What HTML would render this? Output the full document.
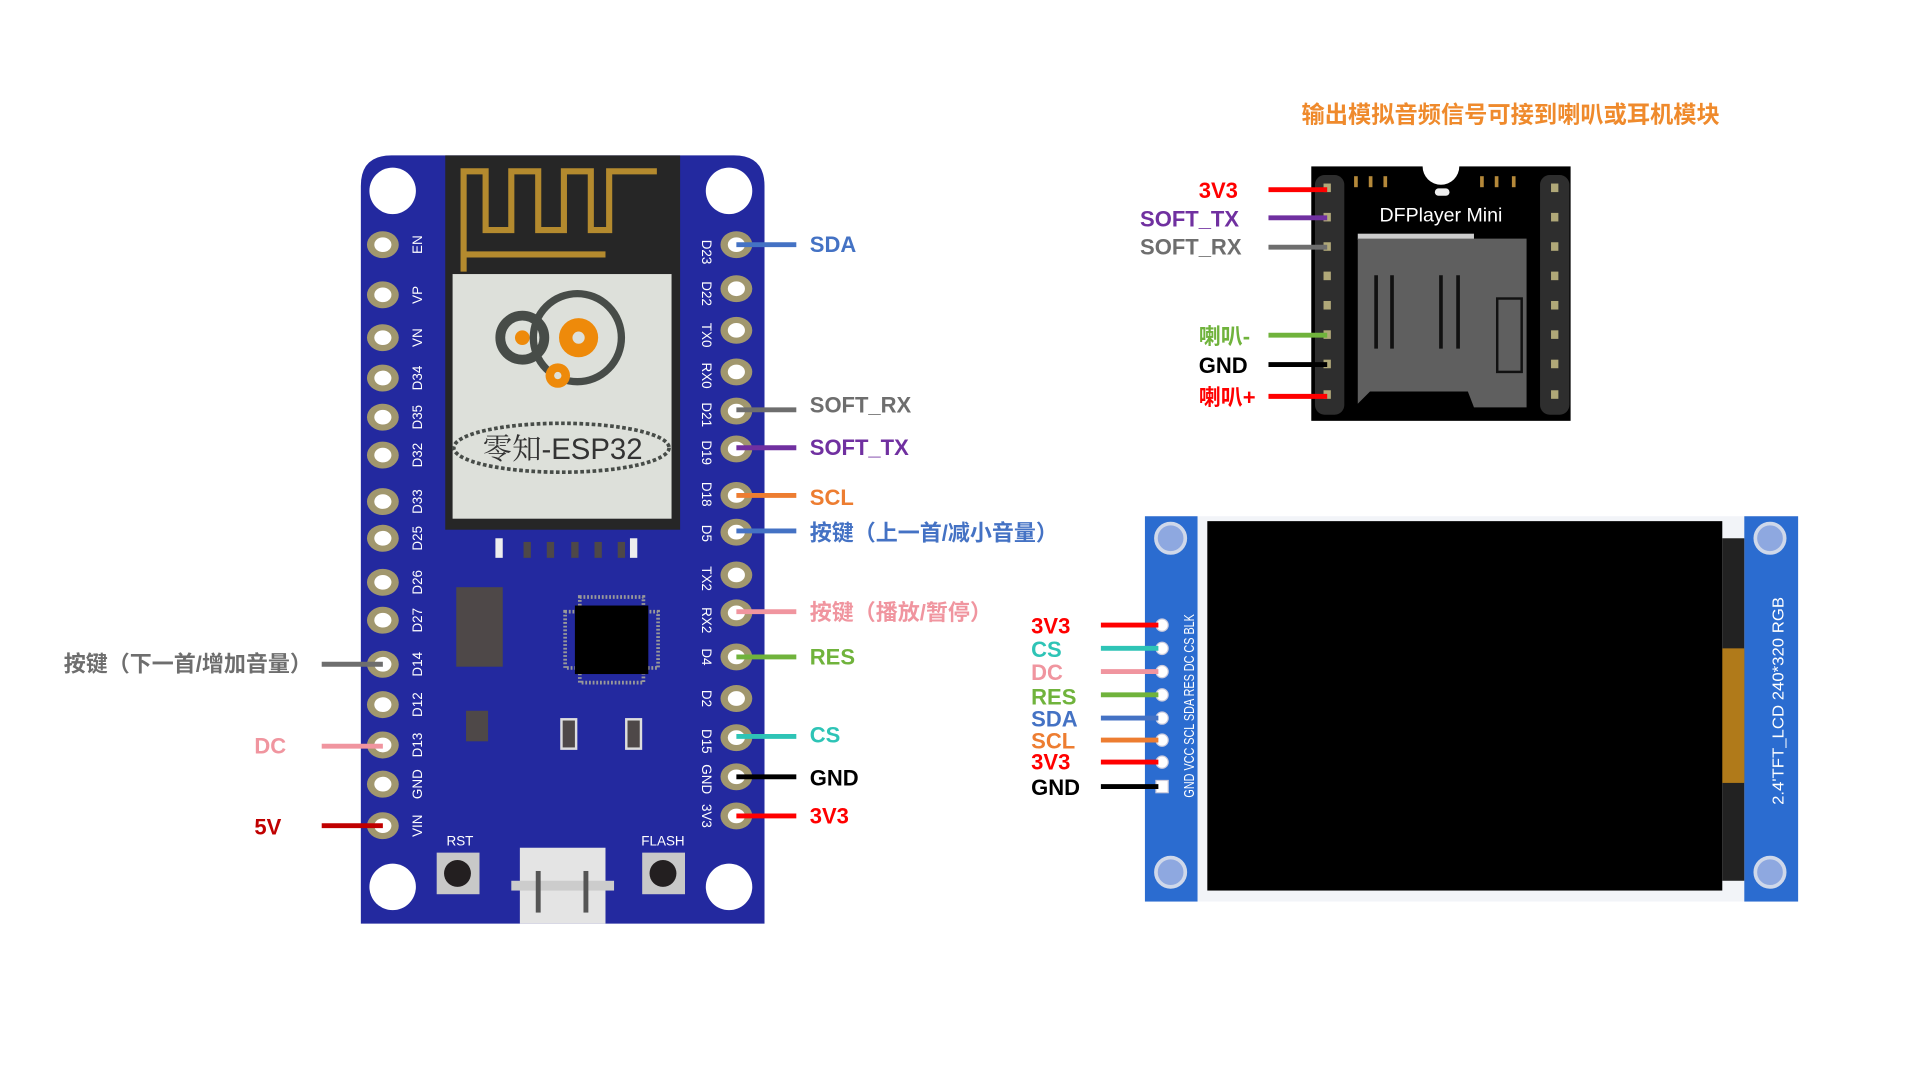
<!DOCTYPE html>
<html><head><meta charset="utf-8"><style>
html,body{margin:0;padding:0;background:#fff;width:1918px;height:1078px;overflow:hidden}
svg{display:block}
text{font-family:"Liberation Sans","Noto Sans CJK SC",sans-serif}
.l{font-size:18px;font-weight:bold}
.pl{font-size:11px;fill:#fff}
</style></head><body>
<svg width="1918" height="1078" viewBox="0 0 1568 881.2" xmlns="http://www.w3.org/2000/svg">
<!-- ESP32 board -->
<path d="M320,127 H600 Q625,127 625,152 V755 H295 V152 Q295,127 320,127 Z" fill="#23299f"/>
<circle cx="321" cy="156" r="19" fill="#fff"/><circle cx="596" cy="156" r="19" fill="#fff"/>
<circle cx="321" cy="725" r="19" fill="#fff"/><circle cx="596" cy="725" r="19" fill="#fff"/>
<rect x="364" y="127" width="192" height="306" fill="#262626"/>
<path d="M379,222 V140 H397 V188 H418 V140 H440 V188 H461 V140 H483 V188 H498 V140 H537 M379,208 H495" stroke="#b48a2e" stroke-width="5" fill="none"/>
<rect x="370" y="224" width="179" height="200" fill="#dde0da"/>
<circle cx="427" cy="276" r="18" fill="none" stroke="#474c48" stroke-width="8"/>
<circle cx="427" cy="276" r="6" fill="#ee8a0a"/>
<circle cx="472" cy="276" r="36" fill="none" stroke="#474c48" stroke-width="6"/>
<circle cx="473" cy="276" r="16" fill="#ee8a0a"/><circle cx="473" cy="276" r="5" fill="#dde0da"/>
<circle cx="456" cy="307" r="10" fill="#ee8a0a"/><circle cx="456" cy="307" r="3" fill="#dde0da"/>
<ellipse cx="459" cy="366" rx="88" ry="20" fill="none" stroke="#474c48" stroke-width="3" stroke-dasharray="3,2"/>
<text x="460" y="375" font-size="24" text-anchor="middle" fill="#333" style="font-family:'Liberation Sans','Noto Serif CJK SC',sans-serif">零知-ESP32</text>
<g fill="#4e4848"><rect x="428" y="443" width="6" height="13"/><rect x="447" y="443" width="6" height="13"/><rect x="467" y="443" width="6" height="13"/><rect x="486" y="443" width="6" height="13"/><rect x="505" y="443" width="6" height="13"/></g>
<rect x="405" y="440" width="6" height="16" fill="#eee"/><rect x="515" y="440" width="6" height="16" fill="#eee"/>
<rect x="373" y="480" width="38" height="65" fill="#4e4848"/>
<rect x="381" y="581" width="18" height="25" fill="#4e4848"/>
<rect x="474" y="488" width="52" height="70" fill="none" stroke="#999" stroke-width="3" stroke-dasharray="1.5,1.5"/>
<rect x="462" y="500" width="76" height="46" fill="none" stroke="#999" stroke-width="3" stroke-dasharray="1.5,1.5"/>
<rect x="470" y="495" width="60" height="56" fill="#000"/>
<rect x="459" y="588" width="12" height="24" fill="#4e4848" stroke="#ddd" stroke-width="2"/>
<rect x="512" y="588" width="12" height="24" fill="#4e4848" stroke="#ddd" stroke-width="2"/>
<text x="376" y="691" class="pl" text-anchor="middle">RST</text>
<text x="542" y="691" class="pl" text-anchor="middle">FLASH</text>
<rect x="357" y="697" width="35" height="34" fill="#c8c8c8"/><circle cx="374" cy="714" r="11" fill="#231f20"/>
<rect x="525" y="697" width="35" height="34" fill="#c8c8c8"/><circle cx="542" cy="714" r="11" fill="#231f20"/>
<rect x="425" y="693" width="70" height="62" fill="#e4e4e4"/><rect x="418" y="720" width="84" height="8" fill="#ccc"/>
<rect x="438" y="712" width="4" height="34" fill="#555"/><rect x="477" y="712" width="4" height="34" fill="#555"/>
<!-- pins -->
<g fill="#a1976e">
<ellipse cx="313" cy="200" rx="13" ry="11"/><ellipse cx="313" cy="241" rx="13" ry="11"/><ellipse cx="313" cy="276" rx="13" ry="11"/><ellipse cx="313" cy="309" rx="13" ry="11"/><ellipse cx="313" cy="341" rx="13" ry="11"/><ellipse cx="313" cy="372" rx="13" ry="11"/><ellipse cx="313" cy="410" rx="13" ry="11"/><ellipse cx="313" cy="440" rx="13" ry="11"/><ellipse cx="313" cy="476" rx="13" ry="11"/><ellipse cx="313" cy="507" rx="13" ry="11"/><ellipse cx="313" cy="543" rx="13" ry="11"/><ellipse cx="313" cy="576" rx="13" ry="11"/><ellipse cx="313" cy="609" rx="13" ry="11"/><ellipse cx="313" cy="641" rx="13" ry="11"/><ellipse cx="313" cy="675" rx="13" ry="11"/>
<ellipse cx="602" cy="200" rx="13" ry="11"/><ellipse cx="602" cy="236" rx="13" ry="11"/><ellipse cx="602" cy="270" rx="13" ry="11"/><ellipse cx="602" cy="304" rx="13" ry="11"/><ellipse cx="602" cy="336" rx="13" ry="11"/><ellipse cx="602" cy="367" rx="13" ry="11"/><ellipse cx="602" cy="405" rx="13" ry="11"/><ellipse cx="602" cy="435" rx="13" ry="11"/><ellipse cx="602" cy="470" rx="13" ry="11"/><ellipse cx="602" cy="501" rx="13" ry="11"/><ellipse cx="602" cy="537" rx="13" ry="11"/><ellipse cx="602" cy="571" rx="13" ry="11"/><ellipse cx="602" cy="603" rx="13" ry="11"/><ellipse cx="602" cy="635" rx="13" ry="11"/><ellipse cx="602" cy="667" rx="13" ry="11"/>
</g>
<g fill="#fff">
<ellipse cx="313" cy="200" rx="7" ry="6"/><ellipse cx="313" cy="241" rx="7" ry="6"/><ellipse cx="313" cy="276" rx="7" ry="6"/><ellipse cx="313" cy="309" rx="7" ry="6"/><ellipse cx="313" cy="341" rx="7" ry="6"/><ellipse cx="313" cy="372" rx="7" ry="6"/><ellipse cx="313" cy="410" rx="7" ry="6"/><ellipse cx="313" cy="440" rx="7" ry="6"/><ellipse cx="313" cy="476" rx="7" ry="6"/><ellipse cx="313" cy="507" rx="7" ry="6"/><ellipse cx="313" cy="543" rx="7" ry="6"/><ellipse cx="313" cy="576" rx="7" ry="6"/><ellipse cx="313" cy="609" rx="7" ry="6"/><ellipse cx="313" cy="641" rx="7" ry="6"/><ellipse cx="313" cy="675" rx="7" ry="6"/>
<ellipse cx="602" cy="200" rx="7" ry="6"/><ellipse cx="602" cy="236" rx="7" ry="6"/><ellipse cx="602" cy="270" rx="7" ry="6"/><ellipse cx="602" cy="304" rx="7" ry="6"/><ellipse cx="602" cy="336" rx="7" ry="6"/><ellipse cx="602" cy="367" rx="7" ry="6"/><ellipse cx="602" cy="405" rx="7" ry="6"/><ellipse cx="602" cy="435" rx="7" ry="6"/><ellipse cx="602" cy="470" rx="7" ry="6"/><ellipse cx="602" cy="501" rx="7" ry="6"/><ellipse cx="602" cy="537" rx="7" ry="6"/><ellipse cx="602" cy="571" rx="7" ry="6"/><ellipse cx="602" cy="603" rx="7" ry="6"/><ellipse cx="602" cy="635" rx="7" ry="6"/><ellipse cx="602" cy="667" rx="7" ry="6"/>
</g>
<g class="pl" text-anchor="middle">
<text transform="translate(345,200) rotate(-90)">EN</text><text transform="translate(345,241) rotate(-90)">VP</text><text transform="translate(345,276) rotate(-90)">VN</text><text transform="translate(345,309) rotate(-90)">D34</text><text transform="translate(345,341) rotate(-90)">D35</text><text transform="translate(345,372) rotate(-90)">D32</text><text transform="translate(345,410) rotate(-90)">D33</text><text transform="translate(345,440) rotate(-90)">D25</text><text transform="translate(345,476) rotate(-90)">D26</text><text transform="translate(345,507) rotate(-90)">D27</text><text transform="translate(345,543) rotate(-90)">D14</text><text transform="translate(345,576) rotate(-90)">D12</text><text transform="translate(345,609) rotate(-90)">D13</text><text transform="translate(345,641) rotate(-90)">GND</text><text transform="translate(345,675) rotate(-90)">VIN</text>
<text transform="translate(574,206) rotate(90)">D23</text><text transform="translate(574,240) rotate(90)">D22</text><text transform="translate(574,274) rotate(90)">TX0</text><text transform="translate(574,307) rotate(90)">RX0</text><text transform="translate(574,339) rotate(90)">D21</text><text transform="translate(574,370) rotate(90)">D19</text><text transform="translate(574,404) rotate(90)">D18</text><text transform="translate(574,436) rotate(90)">D5</text><text transform="translate(574,473) rotate(90)">TX2</text><text transform="translate(574,507) rotate(90)">RX2</text><text transform="translate(574,537) rotate(90)">D4</text><text transform="translate(574,571) rotate(90)">D2</text><text transform="translate(574,606) rotate(90)">D15</text><text transform="translate(574,637) rotate(90)">GND</text><text transform="translate(574,667) rotate(90)">3V3</text>
</g>
<g stroke-width="4">
<line x1="602" y1="200" x2="651" y2="200" stroke="#4472c4"/>
<line x1="602" y1="335" x2="651" y2="335" stroke="#6e6e6e"/>
<line x1="602" y1="366" x2="651" y2="366" stroke="#7030a0"/>
<line x1="602" y1="405" x2="651" y2="405" stroke="#ed7d31"/>
<line x1="602" y1="434" x2="651" y2="434" stroke="#4472c4"/>
<line x1="602" y1="500" x2="651" y2="500" stroke="#f0959f"/>
<line x1="602" y1="537" x2="651" y2="537" stroke="#70b33c"/>
<line x1="602" y1="602" x2="651" y2="602" stroke="#2ec4b6"/>
<line x1="602" y1="635" x2="651" y2="635" stroke="#000"/>
<line x1="602" y1="667" x2="651" y2="667" stroke="#ff0000"/>
<line x1="263" y1="543" x2="313" y2="543" stroke="#6e6e6e"/>
<line x1="263" y1="610" x2="313" y2="610" stroke="#f0959f"/>
<line x1="263" y1="675" x2="313" y2="675" stroke="#c00000"/>
</g>
<g class="l">
<text x="662" y="206" fill="#4472c4">SDA</text>
<text x="662" y="337" fill="#6e6e6e">SOFT_RX</text>
<text x="662" y="372" fill="#7030a0">SOFT_TX</text>
<text x="662" y="413" fill="#ed7d31">SCL</text>
<text x="662" y="442" fill="#4472c4">按键（上一首/减小音量）</text>
<text x="662" y="507" fill="#f0959f">按键（播放/暂停）</text>
<text x="662" y="543" fill="#70b33c">RES</text>
<text x="662" y="607" fill="#2ec4b6">CS</text>
<text x="662" y="642" fill="#000">GND</text>
<text x="662" y="673" fill="#ff0000">3V3</text>
<text x="255" y="549" fill="#6e6e6e" text-anchor="end">按键（下一首/增加音量）</text>
<text x="208" y="616" fill="#f0959f">DC</text>
<text x="208" y="682" fill="#c00000">5V</text>
</g>
<!-- DFPlayer -->
<text x="1235" y="100" font-size="19" font-weight="bold" fill="#ef8a2c" text-anchor="middle">输出模拟音频信号可接到喇叭或耳机模块</text>
<rect x="1072" y="136" width="212" height="208" fill="#000"/>
<circle cx="1178" cy="136" r="15" fill="#fff"/>
<g fill="#2e2e2e">
<rect x="1075" y="143" width="24" height="196" rx="8"/><rect x="1259" y="143" width="24" height="196" rx="8"/>
</g>
<g fill="#b0a878">
<rect x="1082" y="150" width="6" height="7"/><rect x="1082" y="174" width="6" height="7"/><rect x="1082" y="198" width="6" height="7"/><rect x="1082" y="222" width="6" height="7"/><rect x="1082" y="246" width="6" height="7"/><rect x="1082" y="270" width="6" height="7"/><rect x="1082" y="294" width="6" height="7"/><rect x="1082" y="319" width="6" height="7"/>
<rect x="1268" y="150" width="6" height="7"/><rect x="1268" y="174" width="6" height="7"/><rect x="1268" y="198" width="6" height="7"/><rect x="1268" y="222" width="6" height="7"/><rect x="1268" y="246" width="6" height="7"/><rect x="1268" y="270" width="6" height="7"/><rect x="1268" y="294" width="6" height="7"/><rect x="1268" y="319" width="6" height="7"/>
</g>
<g fill="#b5893a"><rect x="1107" y="144" width="3" height="9"/><rect x="1119" y="144" width="3" height="9"/><rect x="1131" y="144" width="3" height="9"/><rect x="1210" y="144" width="3" height="9"/><rect x="1222" y="144" width="3" height="9"/><rect x="1236" y="144" width="3" height="9"/></g>
<rect x="1173" y="154" width="12" height="6" rx="3" fill="#eee"/>
<text x="1178" y="181" font-size="16" fill="#fff" text-anchor="middle">DFPlayer Mini</text>
<rect x="1110" y="191" width="95" height="5" fill="#ccc"/>
<path d="M1110,195 H1248 V333 H1205 L1200,320 H1120 L1110,330 Z" fill="#5f5f5f"/>
<g stroke="#111" stroke-width="3"><line x1="1125" y1="225" x2="1125" y2="285"/><line x1="1138" y1="225" x2="1138" y2="285"/><line x1="1178" y1="225" x2="1178" y2="285"/><line x1="1192" y1="225" x2="1192" y2="285"/></g>
<rect x="1224" y="244" width="20" height="60" fill="none" stroke="#111" stroke-width="2"/>
<g stroke-width="4">
<line x1="1037" y1="155" x2="1085" y2="155" stroke="#ff0000"/>
<line x1="1037" y1="178" x2="1085" y2="178" stroke="#7030a0"/>
<line x1="1037" y1="202" x2="1085" y2="202" stroke="#6e6e6e"/>
<line x1="1037" y1="274" x2="1085" y2="274" stroke="#70b33c"/>
<line x1="1037" y1="298" x2="1085" y2="298" stroke="#000"/>
<line x1="1037" y1="324" x2="1085" y2="324" stroke="#ff0000"/>
</g>
<g class="l">
<text x="980" y="162" fill="#ff0000">3V3</text>
<text x="932" y="185" fill="#7030a0">SOFT_TX</text>
<text x="932" y="208" fill="#6e6e6e">SOFT_RX</text>
<text x="980" y="281" fill="#70b33c">喇叭-</text>
<text x="980" y="305" fill="#000">GND</text>
<text x="980" y="331" fill="#ff0000">喇叭+</text>
</g>
<!-- TFT -->
<rect x="936" y="422" width="534" height="315" fill="#f2f4f8"/>
<rect x="936" y="422" width="43" height="315" fill="#2b6cd0"/>
<rect x="1426" y="422" width="44" height="315" fill="#2b6cd0"/>
<rect x="1408" y="440" width="18" height="280" fill="#222"/>
<rect x="1406" y="530" width="20" height="110" fill="#b07a1a"/>
<rect x="987" y="426" width="421" height="302" fill="#000"/>
<g fill="#8ea8e0" stroke="#cfd8ea" stroke-width="3">
<circle cx="957" cy="440" r="12"/><circle cx="957" cy="713" r="12"/><circle cx="1447" cy="440" r="12"/><circle cx="1447" cy="713" r="12"/>
</g>
<g fill="#fff" stroke="#ccd" stroke-width="1">
<circle cx="950" cy="511" r="5"/><circle cx="950" cy="530" r="5"/><circle cx="950" cy="549" r="5"/><circle cx="950" cy="568" r="5"/><circle cx="950" cy="587" r="5"/><circle cx="950" cy="605" r="5"/><circle cx="950" cy="623" r="5"/><rect x="945" y="638" width="10" height="10"/>
</g>
<text transform="translate(976,577) rotate(-90)" font-size="12" fill="#fff" text-anchor="middle" textLength="150" lengthAdjust="spacingAndGlyphs">GND VCC SCL SDA RES DC CS BLK</text>
<text transform="translate(1458,573) rotate(-90)" font-size="13" fill="#fff" text-anchor="middle" textLength="170" lengthAdjust="spacingAndGlyphs">2.4'TFT_LCD  240*320  RGB</text>
<g stroke-width="4">
<line x1="900" y1="511" x2="947" y2="511" stroke="#ff0000"/>
<line x1="900" y1="530" x2="947" y2="530" stroke="#2ec4b6"/>
<line x1="900" y1="549" x2="947" y2="549" stroke="#f0959f"/>
<line x1="900" y1="568" x2="947" y2="568" stroke="#70b33c"/>
<line x1="900" y1="587" x2="947" y2="587" stroke="#4472c4"/>
<line x1="900" y1="605" x2="947" y2="605" stroke="#ed7d31"/>
<line x1="900" y1="623" x2="947" y2="623" stroke="#ff0000"/>
<line x1="900" y1="643" x2="947" y2="643" stroke="#000"/>
</g>
<g class="l">
<text x="843" y="518" fill="#ff0000">3V3</text>
<text x="843" y="537" fill="#2ec4b6">CS</text>
<text x="843" y="556" fill="#f0959f">DC</text>
<text x="843" y="576" fill="#70b33c">RES</text>
<text x="843" y="594" fill="#4472c4">SDA</text>
<text x="843" y="612" fill="#ed7d31">SCL</text>
<text x="843" y="629" fill="#ff0000">3V3</text>
<text x="843" y="650" fill="#000">GND</text>
</g>
</svg>
</body></html>
